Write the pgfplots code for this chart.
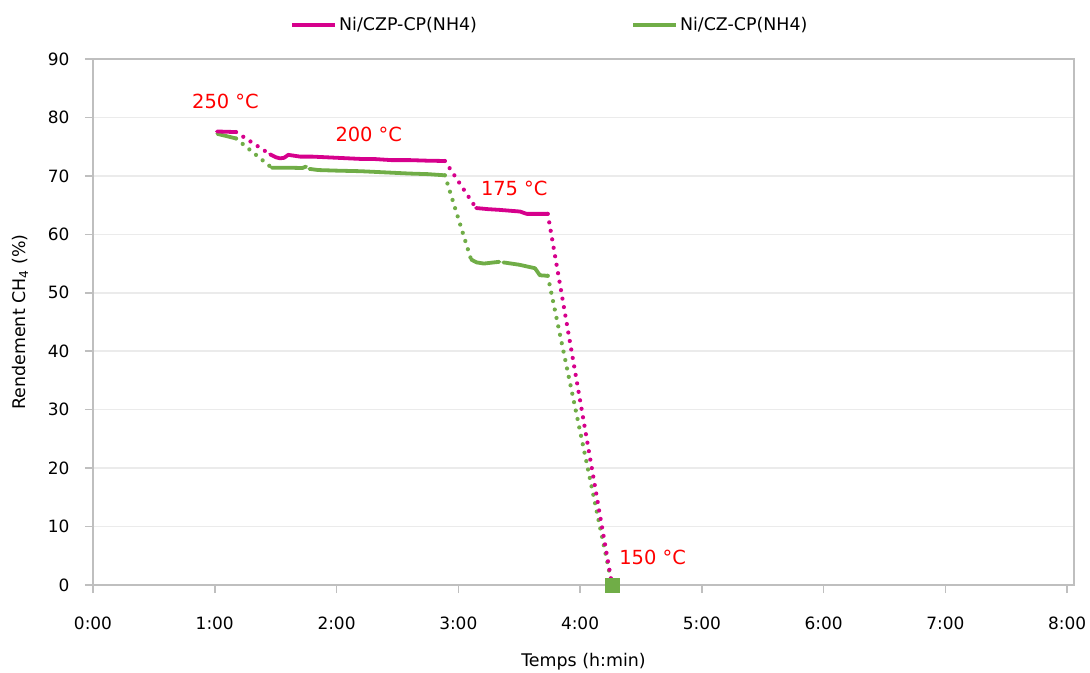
\documentclass[border=0pt]{standalone}
\usepackage{pgfplots}
\pgfplotsset{compat=1.18}
\usepackage{fontspec}
\setmainfont{DejaVu Sans}
\definecolor{mag}{RGB}{214,0,140}
\definecolor{grn}{RGB}{112,173,71}
\definecolor{axgray}{RGB}{191,191,191}
\definecolor{gridgray}{RGB}{235,235,235}
\pgfplotsset{
  solidM/.style={mag, line width=3.8bp, line join=round, line cap=round, forget plot},
  dotM/.style={mag, line width=4.2bp, line cap=round, dash pattern=on 0bp off 8.6bp, forget plot},
  solidG/.style={grn, line width=3.8bp, line join=round, line cap=round, forget plot},
  dotG/.style={grn, line width=4.2bp, line cap=round, dash pattern=on 0bp off 8.6bp, forget plot},
}
\begin{document}
\begin{tikzpicture}
\useasboundingbox (0,0) rectangle (1090bp,673bp);
\begin{axis}[
  at={(93bp,88bp)}, anchor=south west,
  scale only axis, width=981bp, height=526bp,
  xmin=0, xmax=8.057, ymin=0, ymax=90,
  xtick={0,1,...,8},
  xticklabels={0:00,1:00,2:00,3:00,4:00,5:00,6:00,7:00,8:00},
  ytick={0,10,...,90},
  xtick pos=bottom, ytick pos=left,
  tick align=outside, major tick length=8bp,
  tick style={axgray, line width=1.5bp},
  axis line style={axgray, line width=1.5bp},
  ymajorgrids, grid style={gridgray, line width=1.5bp},
  tick label style={font=\fontsize{17}{18}\selectfont, /pgf/number format/assume math mode=true},
  xticklabel style={yshift=-20bp},
  yticklabel style={xshift=-12bp},
  xlabel={Temps (h:min)},
  ylabel={Rendement CH\textsubscript{4} (\%)},
  label style={font=\fontsize{17.5}{20}\selectfont},
  xlabel style={at={(axis description cs:0.5,-0.1464)}, anchor=center},
  ylabel style={at={(axis description cs:-0.0744,0.5)}, anchor=center},
  legend style={at={(0.2008,1.0646)}, anchor=west, draw=none, fill=none,
    font=\fontsize{17.5}{20}\selectfont, inner sep=0pt,
    /tikz/every even column/.append style={column sep=152bp}},
  legend columns=2,
  legend cell align=left,
  legend image code/.code={\draw[#1, line width=4bp] (0bp,0bp) -- (43bp,0bp);},
  clip=false,
]
\addlegendimage{mag}
\addlegendentry{Ni/CZP-CP(NH4)}
\addlegendimage{grn}
\addlegendentry{Ni/CZ-CP(NH4)}

% Ni/CZ-CP(NH4)
\addplot[solidG] coordinates {(1.021,77.2) (1.175,76.4)};
\addplot[dotG] coordinates {(1.175,76.4) (1.467,71.4)};
\addplot[solidG] coordinates {(1.467,71.4) (1.6,71.4) (1.72,71.35) (1.75,71.6)};
\addplot[solidG] coordinates {(1.777,71.2) (1.85,71.0) (2.0,70.9) (2.2,70.8) (2.4,70.6) (2.6,70.4) (2.75,70.3) (2.89,70.1)};
\addplot[dotG] coordinates {(2.89,70.1) (3.105,55.7)};
\addplot[solidG] coordinates {(3.105,55.7) (3.15,55.2) (3.21,55.0) (3.337,55.3)};
\addplot[solidG] coordinates {(3.37,55.2) (3.5,54.8) (3.63,54.2) (3.67,53.0) (3.735,52.9)};
\addplot[dotG] coordinates {(3.735,52.9) (4.263,0)};

% Ni/CZP-CP(NH4)
\addplot[solidM] coordinates {(1.018,77.6) (1.175,77.5)};
\addplot[dotM] coordinates {(1.175,77.5) (1.454,73.7)};
\addplot[solidM] coordinates {(1.454,73.7) (1.5,73.2) (1.536,73.0) (1.57,73.1) (1.604,73.6) (1.7,73.3) (1.8,73.3) (2.0,73.1) (2.2,72.9) (2.3,72.9) (2.45,72.7) (2.6,72.7) (2.75,72.6) (2.89,72.55)};
\addplot[dotM] coordinates {(2.89,72.55) (3.146,64.5)};
\addplot[solidM] coordinates {(3.146,64.5) (3.25,64.3) (3.33,64.2) (3.507,63.9) (3.562,63.5) (3.735,63.5)};
\addplot[dotM] coordinates {(3.735,63.5) (4.263,0)};

\addplot[only marks, mark=square*, mark size=7.25bp, grn, forget plot] coordinates {(4.263,0)};

\node[red, font=\fontsize{19.5}{22}\selectfont] at (axis cs:1.088,82.7) {250 °C};
\node[red, font=\fontsize{19.5}{22}\selectfont] at (axis cs:2.265,77.1) {200 °C};
\node[red, font=\fontsize{19.5}{22}\selectfont] at (axis cs:3.46,67.9) {175 °C};
\node[red, font=\fontsize{19.5}{22}\selectfont] at (axis cs:4.596,4.79) {150 °C};
\end{axis}
\end{tikzpicture}
\end{document}
